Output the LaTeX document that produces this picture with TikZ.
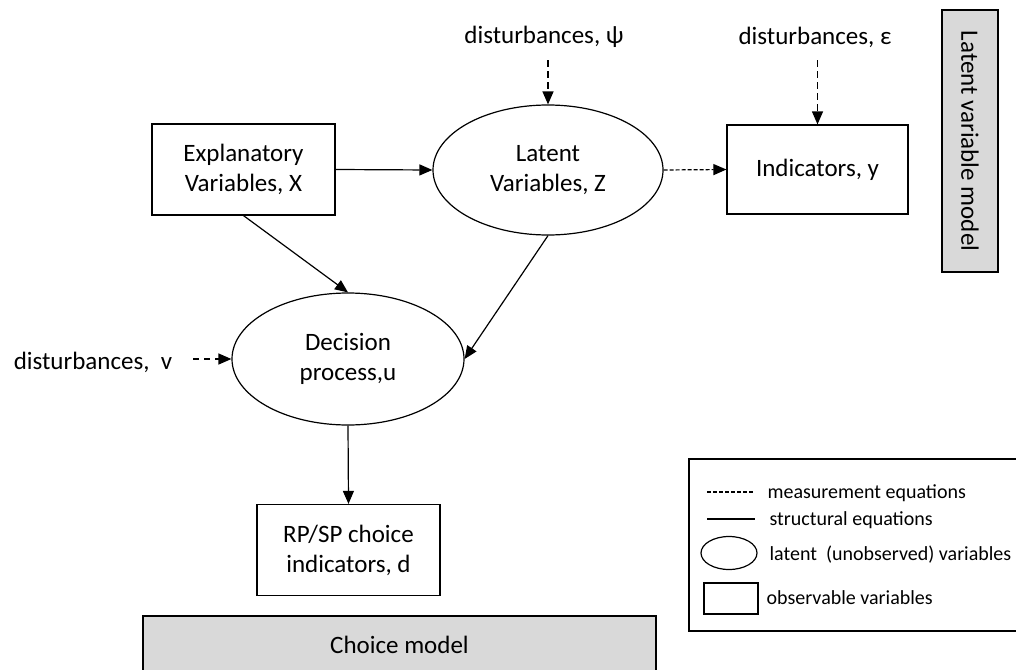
\documentclass[tikz,border=0pt]{standalone}
\usepackage{fontspec}
\setmainfont{Carlito}
\usepackage{xcolor}
\usepackage{tikz}
\usetikzlibrary{arrows.meta,shapes.geometric}
\definecolor{panelgray}{RGB}{217,217,217}

\begin{document}
\begin{tikzpicture}[x=1pt,y=-1pt,line width=1.2pt]
\useasboundingbox (0,0) rectangle (1016,669);
\begin{scope}[every node/.style={draw,inner sep=0pt,align=center,
              font=\fontsize{25}{30}\selectfont}]
    \node[rectangle,minimum width=183pt,minimum height=91pt] (expl) at (243.5,169.5) {Explanatory\\Variables, X};
    \node[ellipse,minimum width=230pt,minimum height=130pt] (latent) at (548,170) {Latent\\Variables, Z};
    \node[rectangle,minimum width=181pt,minimum height=89pt] (ind) at (817.5,169.5) {Indicators, y};
    \node[ellipse,minimum width=232pt,minimum height=132pt] (dec) at (348,359) {Decision\\process,u};
    \node[rectangle,minimum width=183pt,minimum height=91pt] (choice) at (348.5,550) {RP/SP choice\\indicators, d};
\end{scope}
\begin{scope}[every node/.style={font=\fontsize{25}{30}\selectfont}]
    \node (dpsi) at (544,37) {disturbances, ψ};
    \node (deps) at (815,37) {disturbances, ε};
    \node (dv) at (93,362) {disturbances,\ \ v};
    \coordinate (psitail) at (548,60);
    \coordinate (epstail) at (817.5,60);
    \coordinate (vtail) at (193,359);
\end{scope}
% model panels
\begin{scope}[every node/.style={draw,fill=panelgray,inner sep=0pt,
              font=\fontsize{25}{30}\selectfont}]
    \node[rotate=-90,minimum width=262pt,minimum height=56pt] (lvm) at (970,141) {Latent variable model};
    \node[minimum width=513pt,minimum height=58pt] (cm) at (399.5,645) {Choice model};
\end{scope}
\begin{scope}[>={Triangle[length=13pt,width=11pt]}]
    \path [->] (expl.east) edge (latent.west);
    \path [->] (expl.south) edge (dec.north);
    \path [->] (latent.south) edge (dec.east);
    \path [->] (dec.south) edge (choice.north);
    \path [->,dash pattern=on 4pt off 2pt] (latent.east) edge (ind.west);
    \path [->,dash pattern=on 7pt off 4pt] (psitail) edge (latent.north);
    \path [->,dash pattern=on 7pt off 4pt] (epstail) edge (ind.north);
    \path [->,dash pattern=on 6pt off 5pt] (vtail) edge (dec.west);
\end{scope}
% legend
\begin{scope}[every node/.style={anchor=base west,inner sep=0pt,
              font=\fontsize{20}{24}\selectfont}]
    \draw (689,459) rectangle (1022,631);
    \draw[dash pattern=on 3.5pt off 2.5pt] (707,492) -- (753,492);
    \draw (707,519) -- (755,519);
    \draw (729,553) ellipse [x radius=28,y radius=16.5];
    \draw (704,583) rectangle (758,614);
    \node at (767,498) {measurement equations};
    \node at (769,525) {structural equations};
    \node at (769,560) {latent\ \ (unobserved) variables};
    \node at (766,604) {observable variables};
\end{scope}
\end{tikzpicture}
\end{document}
